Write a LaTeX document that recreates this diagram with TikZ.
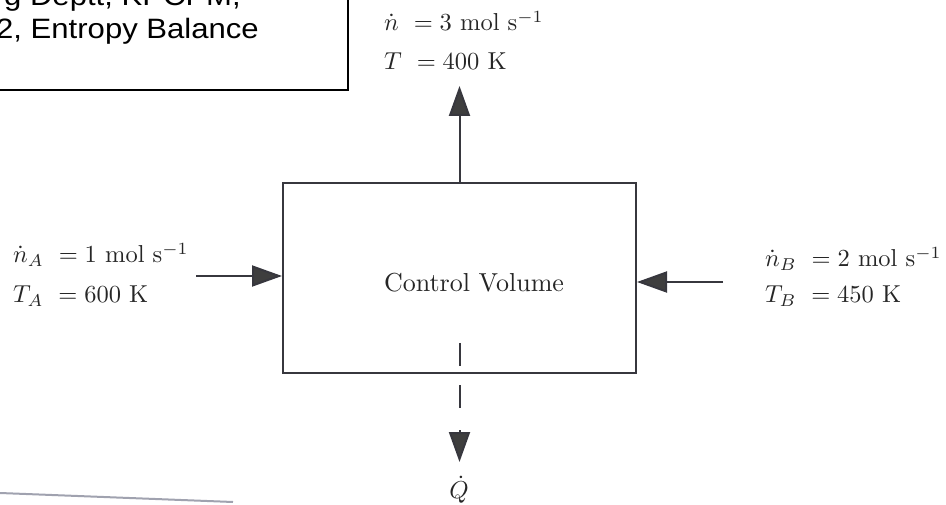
\documentclass[tikz,border=0pt]{standalone}
\usepackage{graphicx}
\usepackage{fontspec}
\newfontfamily\arialfont{Liberation Sans}
\usetikzlibrary{arrows.meta}
\definecolor{ink}{RGB}{55,55,62}
\definecolor{headc}{RGB}{62,62,62}
\definecolor{scanline}{RGB}{160,162,175}
\newcommand{\skx}[1]{\scalebox{2.45}{#1}}
\newcommand{\notex}[1]{\scalebox{1.11}[1]{#1}}
\begin{document}
\begin{tikzpicture}[x=1pt,y=-1pt,
  lbl/.style={font=\fontsize{10}{12}\selectfont, inner sep=0pt, text=black!85},
  flow/.style={draw=ink, line width=2pt, -{Triangle[length=30pt,width=21pt,fill=headc]}},
  seg/.style={draw=ink, line width=2pt},
  note/.style={font=\arialfont\fontsize{28}{34}\selectfont, inner sep=0pt}
]
\path[use as bounding box] (0,0) rectangle (946,505);
\clip (0,0) rectangle (946,505);
% note box (cut off)
\draw[line width=2.5pt] (-10,-10) rectangle (348,90);
\node[note, anchor=base east] (note1) at (241,6) {\notex{g Deptt, KPCPM,}};
\node[note, anchor=base west] (note2) at (-4,39) {\notex{2, Entropy Balance}};
% control volume
\node[draw=ink, line width=2pt, minimum width=353pt, minimum height=190pt, inner sep=0pt] (cv) at (459.5,278) {};
\node[lbl] (cvt) at (474,283) {\scalebox{2.6}{Control Volume}};
% top outlet
\coordinate (topend) at (459.5,86);
\draw[flow] (cv.north) -- (topend);
\node[lbl, anchor=base west] (nlab) at (384,31) {\skx{$\dot n\ = 3\ \mathrm{mol\ s^{-1}}$}};
\node[lbl, anchor=base west] (tlab) at (384,70) {\skx{$T\ = 400\ \mathrm{K}$}};
% left inlet
\coordinate (ain) at (196,276);
\draw[flow] (ain) -- (ain -| cv.west);
\node[lbl, anchor=base west] (nalab) at (13,263) {\skx{$\dot n_A\ = 1\ \mathrm{mol\ s^{-1}}$}};
\node[lbl, anchor=base west] (talab) at (13,303) {\skx{$T_A\ = 600\ \mathrm{K}$}};
% right inlet
\coordinate (bin) at (723,282);
\draw[flow] (bin) -- (bin -| cv.east);
\node[lbl, anchor=base west] (nblab) at (765,267) {\skx{$\dot n_B\ = 2\ \mathrm{mol\ s^{-1}}$}};
\node[lbl, anchor=base west] (tblab) at (765,303) {\skx{$T_B\ = 450\ \mathrm{K}$}};
% heat
\coordinate (q1) at (459.5,343);
\coordinate (q2) at (459.5,366);
\coordinate (q3) at (459.5,385);
\coordinate (q4) at (459.5,408);
\coordinate (q5) at (459.5,430);
\coordinate (q6) at (459.5,462);
\node[lbl] (qdot) at (459,490) {\skx{$\dot Q$}};
\draw[seg] (q1) -- (q2);
\draw[seg] (q3) -- (q4);
\draw[flow] (q5) -- (q6);
% scan edge
\draw[scanline, line width=2pt] (0,493) -- (233,502);
\end{tikzpicture}
\end{document}
